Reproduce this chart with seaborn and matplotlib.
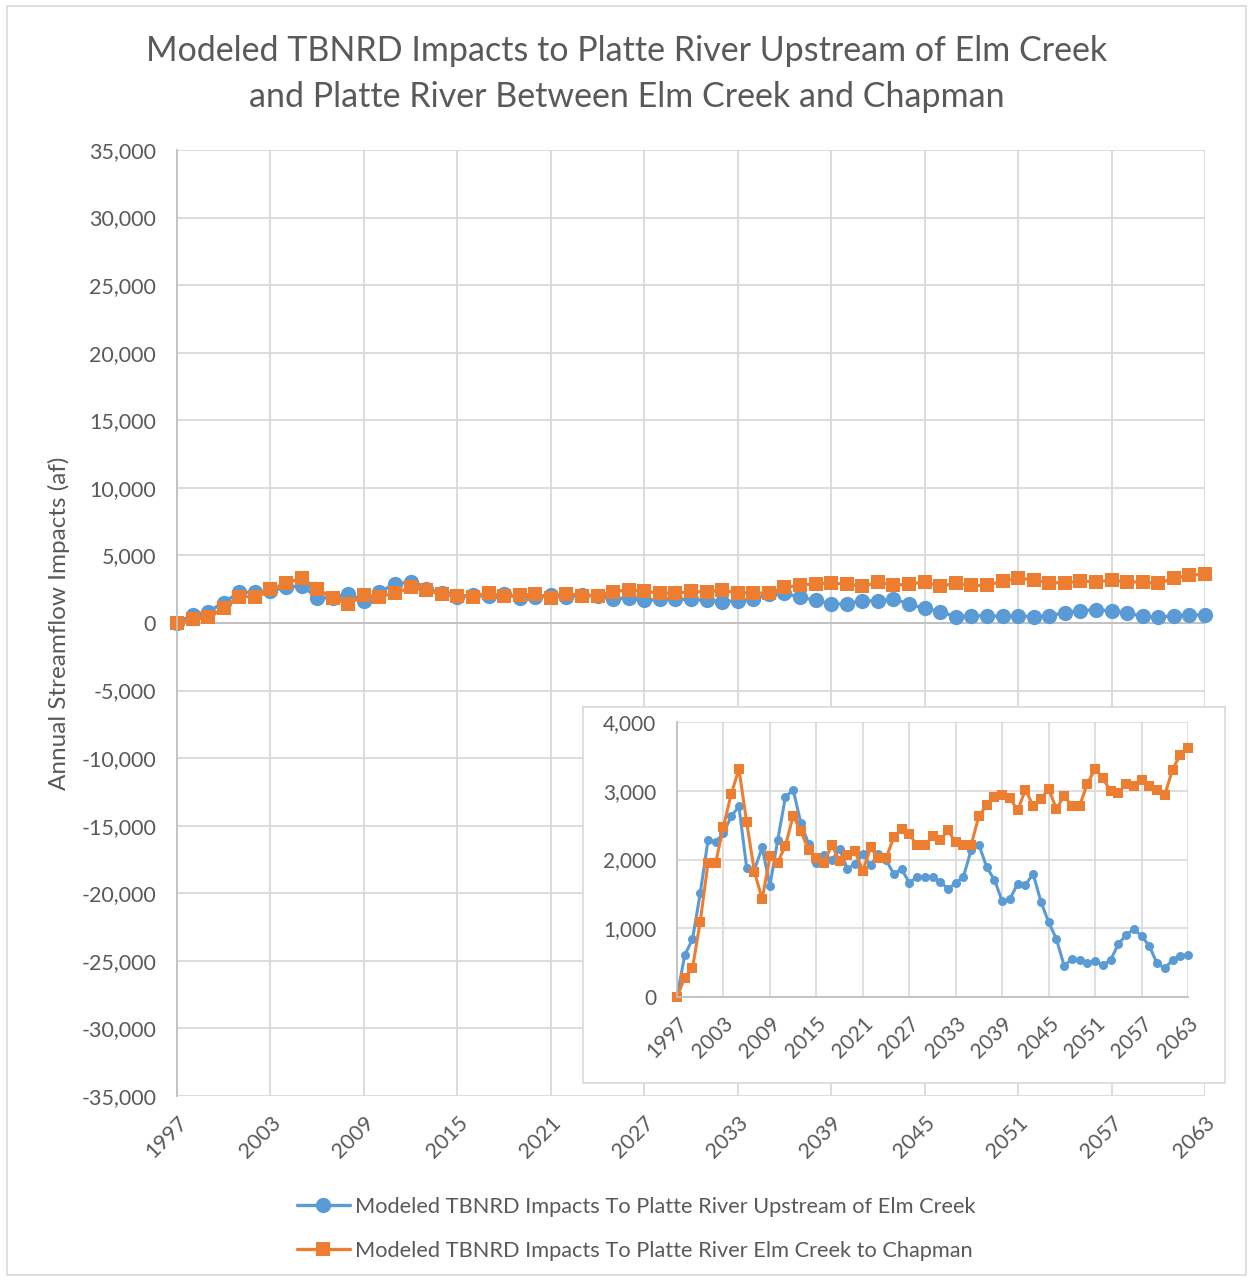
import numpy as np
import pandas as pd
import matplotlib
matplotlib.use("Agg")
import matplotlib.pyplot as plt
import seaborn as sns
from matplotlib.patches import Rectangle
from matplotlib.ticker import FuncFormatter, MultipleLocator

years = list(range(1997, 2064))
upstream_elm = [0, 610, 838, 1509, 2277, 2258, 2384, 2627, 2773, 1878,
                1850, 2175, 1617, 2277, 2908, 3015, 2529, 2228, 1956, 2068,
                1995, 2150, 1864, 1932, 2083, 1913, 2078, 1990, 1791, 1859,
                1665, 1743, 1752, 1743, 1680, 1573, 1655, 1752, 2141, 2214,
                1888, 1704, 1395, 1427, 1646, 1631, 1791, 1388, 1087, 845,
                456, 549, 539, 490, 529, 466, 539, 767, 903, 985,
                888, 743, 490, 417, 539, 602, 612]
elm_to_chapman = [0, 282, 417, 1097, 1947, 1956, 2480, 2951, 3316, 2539,
                  1825, 1422, 2044, 1956, 2199, 2636, 2408, 2141, 2019, 1956,
                  2214, 1971, 2068, 2117, 1835, 2175, 2019, 2019, 2325, 2442,
                  2369, 2204, 2204, 2335, 2286, 2422, 2248, 2214, 2214, 2636,
                  2790, 2912, 2942, 2893, 2714, 3015, 2782, 2883, 3029, 2733,
                  2927, 2782, 2782, 3102, 3316, 3184, 2990, 2966, 3097, 3063,
                  3160, 3063, 3015, 2942, 3306, 3524, 3621]
label_a = "Modeled TBNRD Impacts To Platte River Upstream of Elm Creek"
label_b = "Modeled TBNRD Impacts To Platte River Elm Creek to Chapman"
title = "Modeled TBNRD Impacts to Platte River Upstream of Elm Creek\nand Platte River Between Elm Creek and Chapman"
ylabel = "Annual Streamflow Impacts (af)"
xticks = list(range(1997, 2064, 6))

BLUE = "#5B9BD5"
ORANGE = "#ED7D31"
GRID = "#D9D9D9"
TXT = "#595959"

sns.set_style("white")
plt.rcParams["font.family"] = ["Lato", "DejaVu Sans"]

W, H = 1253, 1281
fig = plt.figure(figsize=(W / 100, H / 100), dpi=100)
fig.patch.set_facecolor("white")

def fx(px):
    return px / W

def fy(py):
    return 1 - py / H

# outer frame
fig.patches.append(Rectangle((fx(7), fy(1275)), fx(1246) - fx(7), fy(6) - fy(1275),
                             transform=fig.transFigure, fill=False,
                             edgecolor=GRID, linewidth=1.2))

fmt = FuncFormatter(lambda v, p: f"{int(v):,}")

# main axes
ax = fig.add_axes([fx(177), fy(1096), fx(1205) - fx(177), fy(150) - fy(1096)])
sns.lineplot(x=years, y=upstream_elm, ax=ax, color=BLUE, marker="o",
             markersize=11, markeredgewidth=0, linewidth=2.4, label=label_a)
sns.lineplot(x=years, y=elm_to_chapman, ax=ax, color=ORANGE, marker="s",
             markersize=9.5, markeredgewidth=0, linewidth=2.4, label=label_b)
ax.set_xlim(1997, 2063)
ax.set_ylim(-35000, 35000)
ax.set_xticks(xticks)
ax.yaxis.set_major_locator(MultipleLocator(5000))
ax.yaxis.set_major_formatter(fmt)
ax.grid(True, color=GRID, linewidth=1.3)
ax.axhline(0, color="#BFBFBF", linewidth=1.3, zorder=1)
for s in ["top", "right", "bottom"]:
    ax.spines[s].set_visible(False)
ax.spines["left"].set_color("#BFBFBF")
ax.spines["left"].set_linewidth(1.3)
ax.tick_params(axis="y", length=0, labelsize=15.5, labelcolor=TXT, pad=15)
ax.tick_params(axis="x", length=0, labelsize=15.5, labelcolor=TXT, pad=12)
plt.setp(ax.get_xticklabels(), rotation=45, ha="right", rotation_mode="anchor")
ax.set_ylabel(ylabel, fontsize=17.5, color=TXT, labelpad=8)
ax.set_xlabel("")
ax.get_legend().remove()

fig.text(0.5, fy(74), title, ha="center", va="center", fontsize=24.5,
         color=TXT, linespacing=1.56)

# legend
handles, labels = ax.get_legend_handles_labels()
leg = fig.legend(handles, labels, loc="upper left",
                 bbox_to_anchor=(fx(288), fy(1188)), frameon=False,
                 fontsize=15.7, labelcolor=TXT, handlelength=2.45,
                 handletextpad=0.2, labelspacing=1.1, borderaxespad=0)

# inset frame
frame = fig.add_axes([fx(583), fy(1083), fx(1225) - fx(583), fy(707) - fy(1083)])
frame.set_xticks([])
frame.set_yticks([])
frame.set_facecolor("white")
for s in frame.spines.values():
    s.set_color(GRID)
    s.set_linewidth(1.2)

ins = fig.add_axes([fx(677), fy(997), fx(1188) - fx(677), fy(722) - fy(997)])
sns.lineplot(x=years, y=upstream_elm, ax=ins, color=BLUE, marker="o",
             markersize=6.5, markeredgewidth=0, linewidth=2.2)
sns.lineplot(x=years, y=elm_to_chapman, ax=ins, color=ORANGE, marker="s",
             markersize=7, markeredgewidth=0, linewidth=2.2)
ins.set_xlim(1997, 2063)
ins.set_ylim(0, 4000)
ins.set_xticks(xticks)
ins.yaxis.set_major_locator(MultipleLocator(1000))
ins.yaxis.set_major_formatter(fmt)
ins.grid(True, color=GRID, linewidth=1.2)
for s in ["top", "right"]:
    ins.spines[s].set_visible(False)
for s in ["left", "bottom"]:
    ins.spines[s].set_color("#BFBFBF")
    ins.spines[s].set_linewidth(1.3)
ins.tick_params(axis="y", length=0, labelsize=15, labelcolor=TXT, pad=15)
ins.tick_params(axis="x", length=0, labelsize=15, labelcolor=TXT, pad=12)
plt.setp(ins.get_xticklabels(), rotation=45, ha="right", rotation_mode="anchor")
for a in (ax, ins):
    for l in a.get_lines():
        l.set_clip_on(False)

fig.savefig("out.png", dpi=100, facecolor="white")
